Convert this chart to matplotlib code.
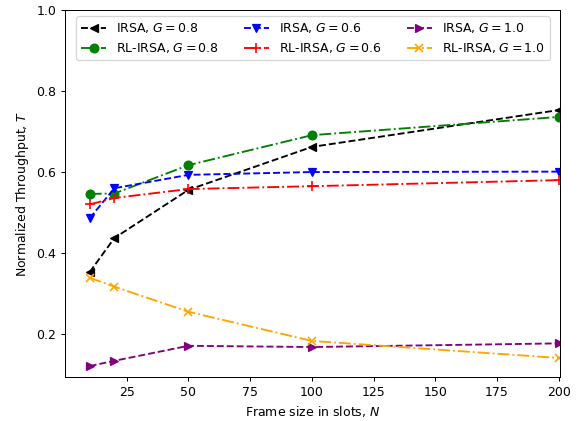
import matplotlib
matplotlib.use("Agg")
import matplotlib.pyplot as plt

N = [10, 20, 50, 100, 200]
irsa_08 = [0.353, 0.437, 0.556, 0.662, 0.753]
rl_08 = [0.546, 0.547, 0.617, 0.691, 0.736]
irsa_06 = [0.486, 0.560, 0.593, 0.600, 0.601]
rl_06 = [0.520, 0.536, 0.558, 0.565, 0.580]
irsa_10 = [0.121, 0.134, 0.171, 0.168, 0.177]
rl_10 = [0.339, 0.317, 0.255, 0.183, 0.141]

dpi = 90
fig = plt.figure(figsize=(577 / dpi, 421 / dpi), dpi=dpi)
ax = fig.add_axes([65 / 577, 1 - 377 / 421, (560 - 65) / 577, (377 - 10) / 421])

ms = 7
ax.plot(N, irsa_08, '--', color='black', marker='<', ms=ms, label=r'IRSA, $G=0.8$')
ax.plot(N, rl_08, '-.', color='green', marker='o', ms=ms, label=r'RL-IRSA, $G=0.8$')
ax.plot(N, irsa_06, '--', color='blue', marker='v', ms=ms, label=r'IRSA, $G=0.6$')
ax.plot(N, rl_06, '-.', color='red', marker='+', ms=ms + 1, mew=1.3, label=r'RL-IRSA, $G=0.6$')
ax.plot(N, irsa_10, '--', color='purple', marker='>', ms=ms, label=r'IRSA, $G=1.0$')
ax.plot(N, rl_10, '-.', color='orange', marker='x', ms=ms, mew=1.3, label=r'RL-IRSA, $G=1.0$')

ax.set_xlim(0, 200.5)
ax.set_ylim(0.094, 1.0)
ax.set_xticks([25, 50, 75, 100, 125, 150, 175, 200])
ax.set_yticks([0.2, 0.4, 0.6, 0.8, 1.0])
ax.set_xlabel(r'Frame size in slots, $N$')
ax.set_ylabel(r'Normalized Throughput, $T$')
ax.legend(ncol=3, loc='upper left', bbox_to_anchor=(76 / 577, 1 - 16 / 421),
          bbox_transform=fig.transFigure, borderaxespad=0)

fig.savefig('out.png', dpi=dpi)
